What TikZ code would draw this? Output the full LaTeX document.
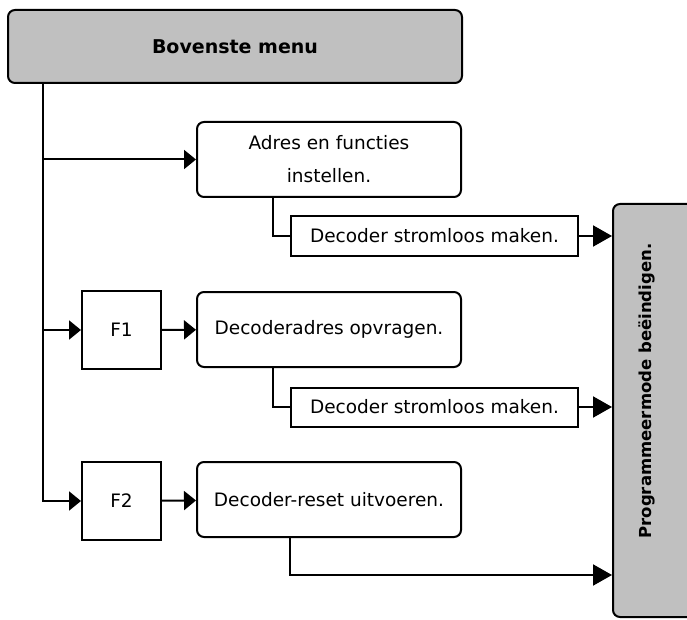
\documentclass[tikz,border=0pt]{standalone}
\usepackage{fontspec}
\setmainfont{DejaVu Sans}
\usetikzlibrary{arrows.meta}
\definecolor{menugray}{RGB}{192,192,192}

\begin{document}
\begin{tikzpicture}[x=1pt,y=-1pt,line width=2pt,
	txt/.style={font=\fontsize{18.5}{33}\selectfont},
	stepbox/.style={draw,rounded corners=7pt,minimum width=264pt,minimum height=75pt,align=center,txt},
	offbox/.style={draw,minimum width=287pt,minimum height=39pt,txt},
	keybox/.style={draw,minimum width=79pt,minimum height=78pt,txt},
	arr/.style={-{Triangle[length=12pt,width=19pt]}},
	bigarr/.style={-{Triangle[length=19pt,width=21pt]}}]
	\clip (0,0) rectangle (687,620);
	\node[draw,fill=menugray,rounded corners=7pt,minimum width=454pt,minimum height=73pt,
		font=\fontsize{19}{22}\selectfont\bfseries] (menu) at (235,46.5) {Bovenste menu};
	\node[stepbox] (adres) at (329,159.5) {Adres en functies\\instellen.};
	\node[offbox] (off1) at (434.5,236) {Decoder stromloos maken.};
	\node[keybox] (f1) at (121.5,330) {F1};
	\node[stepbox] (opvragen) at (329,329.5) {Decoderadres opvragen.};
	\node[offbox] (off2) at (434.5,407) {Decoder stromloos maken.};
	\node[keybox] (f2) at (121.5,501) {F2};
	\node[stepbox] (reset) at (329,499.5) {Decoder-reset uitvoeren.};
	\node[draw,fill=menugray,rounded corners=7pt,minimum width=87pt,minimum height=413pt] (prog) at (656.5,410.5) {};
	\node[rotate=90,font=\fontsize{16.5}{20}\selectfont\bfseries] (progtxt) at (647,391) {Programmeermode beëindigen.};
	\coordinate (stem) at (43,0);
	\coordinate (drop) at (273,0);
	\coordinate (lastrow) at (0,575);
	\draw[arr] (menu.south -| stem) |- (f2);
	\draw[arr] (stem |- adres) -- (adres);
	\draw[arr] (stem |- f1) -- (f1);
	\draw[arr] (f1) -- (opvragen);
	\draw[arr] (f2) -- (reset);
	\draw (adres.south -| drop) |- (off1);
	\draw (opvragen.south -| drop) |- (off2);
	\draw[bigarr] (off1) -- (off1 -| prog.west);
	\draw[bigarr] (off2) -- (off2 -| prog.west);
	\draw[bigarr] (reset.south -| off2.west) |- (prog.west |- lastrow);
\end{tikzpicture}
\end{document}
